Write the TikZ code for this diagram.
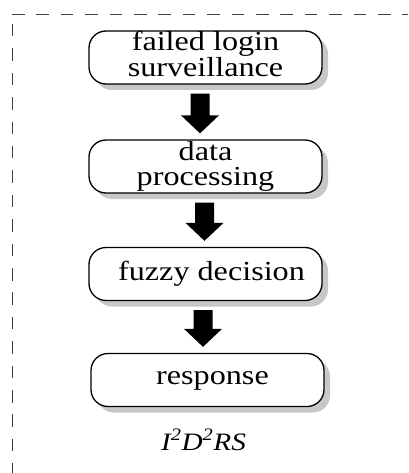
\documentclass[tikz,border=0pt]{standalone}
\usepackage{fontspec}
\setmainfont{Liberation Serif}[FakeStretch=1.17]
\usetikzlibrary{shadows,calc}

% multi-line text for the stage boxes; optional argument raises/lowers it
\newcommand\stagetext[2][0pt]{\raisebox{#1}{\begin{tabular}{@{}c@{}}#2\end{tabular}}}

% block arrow from the bottom of one stage to the top of the next, shifted by #3
\newcommand\blockarrow[3]{%
  \fill[arrowfill] let \p1=(#1.south), \p2=(#2.north) in
    (\x1+#3-9.5,\y1-9) -- (\x1+#3+9.5,\y1-9) -- (\x1+#3+9.5,\y2+24)
    -- (\x1+#3+19,\y2+24) -- (\x1+#3,\y2+6) -- (\x1+#3-19,\y2+24)
    -- (\x1+#3-9.5,\y2+24) -- cycle;}

\begin{document}
\begin{tikzpicture}[x=1pt,y=1pt,
  stage/.style={draw, line width=1.3pt, fill=white, rounded corners=17pt,
    minimum width=233pt, minimum height=53pt, inner sep=0pt,
    font=\fontsize{27.5}{22.5}\selectfont,
    drop shadow={shadow xshift=6pt, shadow yshift=-6pt, fill=black!22, opacity=1}},
  arrowfill/.style={fill=black},
  frame/.style={draw=black!75, line width=0.9pt, dash pattern=on 12.5pt off 11.9pt},
  caption/.style={font=\fontsize{25}{28}\selectfont\itshape, inner sep=0pt}]

\useasboundingbox (0,0) rectangle (408,-473);

% dashed frame (top and left sides)
\draw[frame] (12,-14) -- (408,-14);
\draw[frame] (12,-24) -- (12,-473);

% stages
\node[stage] (s1) at (205.5,-57.5) {\stagetext[-5.5pt]{failed login\\surveillance}};
\node[stage] (s2) at (205.5,-166.5) {\stagetext[-1pt]{data\\processing}};
\node[stage] (s3) at (205.5,-274) {\stagetext[-1.5pt]{\hspace*{12pt}fuzzy decision}};
\node[stage] (s4) at (207.5,-380) {\stagetext[-1pt]{\hspace*{10pt}response}};

% flow arrows
\blockarrow{s1}{s2}{-5.5}
\blockarrow{s2}{s3}{-1}
\blockarrow{s3}{s4}{-2.5}

% system name
\node[caption, anchor=base] (name) at (203.5,-450) {I\textsuperscript{2}D\textsuperscript{2}RS};
\end{tikzpicture}
\end{document}
